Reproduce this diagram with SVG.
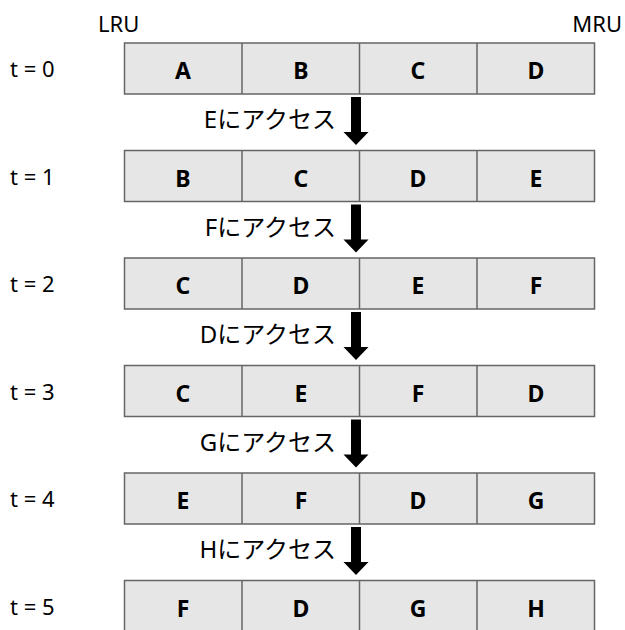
<svg xmlns="http://www.w3.org/2000/svg" width="625" height="630" viewBox="0 0 625 630">
<style>
.lbl{font-family:"Noto Sans","Liberation Sans",sans-serif;font-size:22px;fill:#000}
.cell{fill:#e6e6e6;stroke:#666;stroke-width:1.5}
.div{stroke:#666;stroke-width:1.5}
.ltr{font-family:"Noto Sans","Liberation Sans",sans-serif;font-size:23px;font-weight:bold;fill:#000;text-anchor:middle}
.acc{font-family:"Noto Sans","Noto Sans CJK JP",sans-serif;font-size:24px;fill:#000;text-anchor:end}
</style>
<defs>
<path id="arw" d="M-5,0 H5 V35 H12.5 L0,48 L-12.5,35 H-5 Z" fill="#000"/>
<g id="box">
<rect class="cell" x="124.5" y="0" width="470" height="51"/>
<line class="div" x1="242" y1="0" x2="242" y2="51"/>
<line class="div" x1="359.5" y1="0" x2="359.5" y2="51"/>
<line class="div" x1="477" y1="0" x2="477" y2="51"/>
</g>
</defs>
<text class="lbl" x="98" y="32">LRU</text>
<text class="lbl" x="622" y="32" text-anchor="end">MRU</text>

<g id="row0" transform="translate(0,43)">
<text class="lbl" x="10" y="34">t = 0</text>
<use href="#box"/>
<text class="ltr" x="183" y="36">A</text><text class="ltr" x="301" y="36">B</text><text class="ltr" x="418" y="36">C</text><text class="ltr" x="536" y="36">D</text>
</g>
<g id="row1" transform="translate(0,150.5)">
<text class="lbl" x="10" y="34">t = 1</text>
<use href="#box"/>
<text class="ltr" x="183" y="36">B</text><text class="ltr" x="301" y="36">C</text><text class="ltr" x="418" y="36">D</text><text class="ltr" x="536" y="36">E</text>
</g>
<g id="row2" transform="translate(0,258)">
<text class="lbl" x="10" y="34">t = 2</text>
<use href="#box"/>
<text class="ltr" x="183" y="36">C</text><text class="ltr" x="301" y="36">D</text><text class="ltr" x="418" y="36">E</text><text class="ltr" x="536" y="36">F</text>
</g>
<g id="row3" transform="translate(0,365.5)">
<text class="lbl" x="10" y="34">t = 3</text>
<use href="#box"/>
<text class="ltr" x="183" y="36">C</text><text class="ltr" x="301" y="36">E</text><text class="ltr" x="418" y="36">F</text><text class="ltr" x="536" y="36">D</text>
</g>
<g id="row4" transform="translate(0,473)">
<text class="lbl" x="10" y="34">t = 4</text>
<use href="#box"/>
<text class="ltr" x="183" y="36">E</text><text class="ltr" x="301" y="36">F</text><text class="ltr" x="418" y="36">D</text><text class="ltr" x="536" y="36">G</text>
</g>
<g id="row5" transform="translate(0,580.5)">
<text class="lbl" x="10" y="34">t = 5</text>
<use href="#box"/>
<text class="ltr" x="183" y="36">F</text><text class="ltr" x="301" y="36">D</text><text class="ltr" x="418" y="36">G</text><text class="ltr" x="536" y="36">H</text>
</g>

<g id="connectors">
<use href="#arw" x="356" y="97"/>
<use href="#arw" x="356" y="204.5"/>
<use href="#arw" x="356" y="312"/>
<use href="#arw" x="356" y="419.5"/>
<use href="#arw" x="356" y="527"/>
<text class="acc" x="336" y="128">Eにアクセス</text>
<text class="acc" x="336" y="235.5">Fにアクセス</text>
<text class="acc" x="336" y="343">Dにアクセス</text>
<text class="acc" x="336" y="450.5">Gにアクセス</text>
<text class="acc" x="336" y="558">Hにアクセス</text>
</g>
</svg>
